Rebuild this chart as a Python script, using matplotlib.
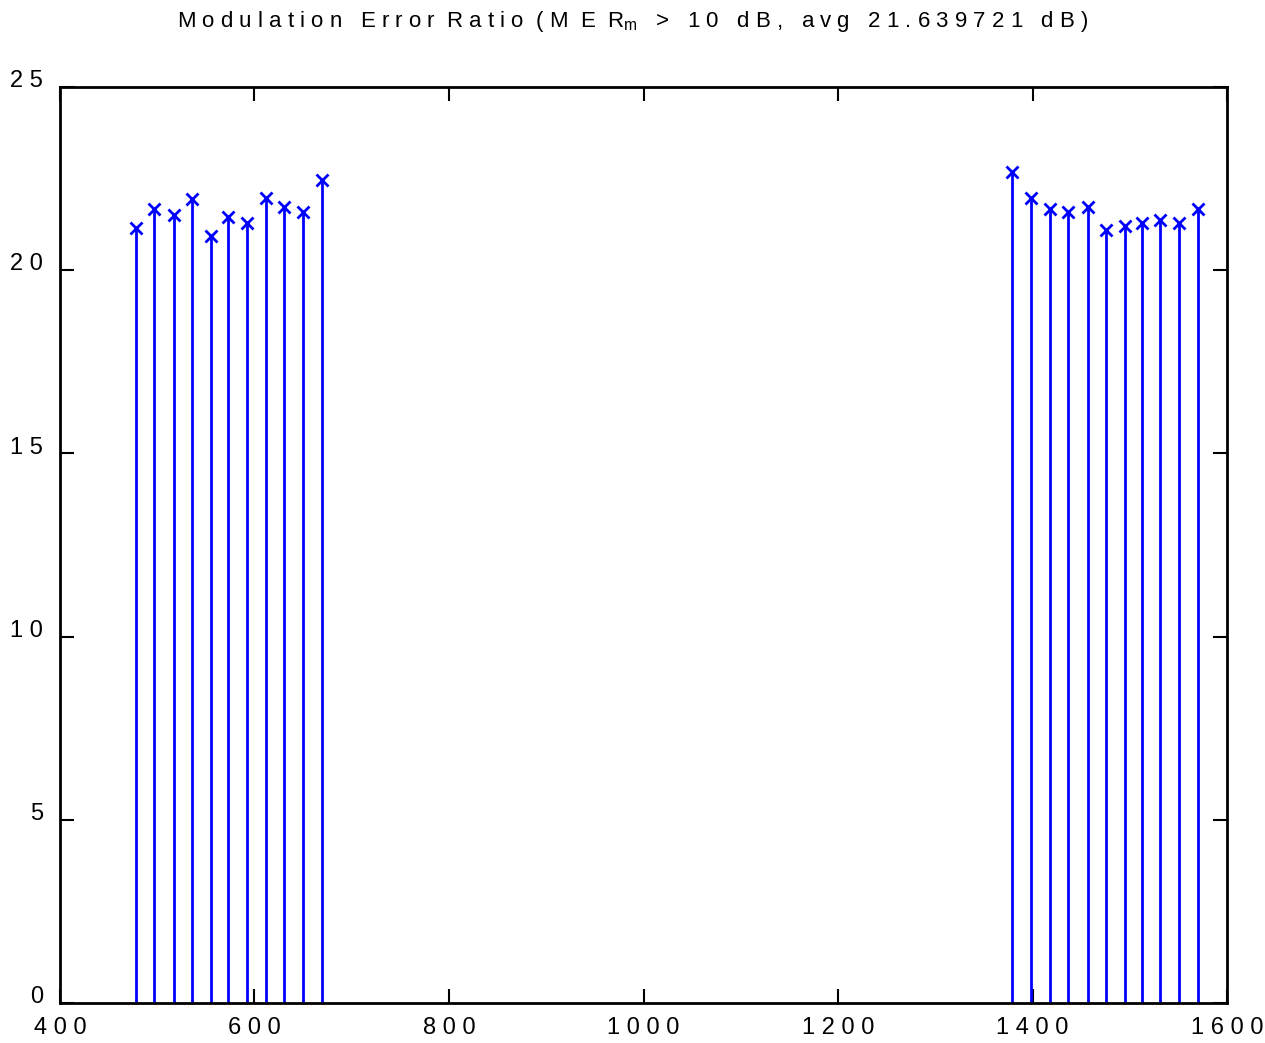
import matplotlib
matplotlib.use("Agg")
import matplotlib.pyplot as plt
import matplotlib.transforms as mtransforms
from matplotlib import font_manager

# Subcarrier index and MER per subcarrier (dB).
carriers_low = [478, 497, 517, 536, 555, 573, 592, 612, 630, 650, 669]
mer_low = [21.16, 21.66, 21.52, 21.95, 20.94, 21.45, 21.29, 21.97, 21.73, 21.59, 22.46]
carriers_high = [1379, 1398, 1418, 1437, 1457, 1476, 1495, 1513, 1531, 1551, 1570]
mer_high = [22.68, 21.97, 21.67, 21.59, 21.73, 21.09, 21.21, 21.30, 21.38, 21.30, 21.68]

x_ticks = [400, 600, 800, 1000, 1200, 1400, 1600]
y_ticks = [0, 5, 10, 15, 20, 25]
avg_text = "21.639721"


def spaced(s):
    return " ".join(str(s))


# Pick a narrow font if there is one.
names = {f.name for f in font_manager.fontManager.ttflist}
family = ["Liberation Sans Narrow", "DejaVu Sans"] if "Liberation Sans Narrow" in names \
    else ["Liberation Sans", "DejaVu Sans"]
plt.rcParams["font.family"] = family
plt.rcParams["mathtext.fontset"] = "custom"
plt.rcParams["mathtext.rm"] = family[0]

fig = plt.figure(figsize=(12.65, 10.43), dpi=100)
ax = fig.add_axes([60 / 1265, 1 - 1003 / 1043, (1227 - 60) / 1265, (1003 - 87) / 1043])

carriers = carriers_low + carriers_high
mer = mer_low + mer_high
markerline, stemlines, baseline = ax.stem(carriers, mer, linefmt="b-", markerfmt="bx", basefmt="none")
stemlines.set_linewidth(2)
markerline.set_markersize(9)
markerline.set_markeredgewidth(2)

ax.set_xlim(400, 1600)
ax.set_ylim(0, 25)
ax.set_xticks(x_ticks)
ax.set_xticklabels([spaced(t) for t in x_ticks])
ax.set_yticks(y_ticks)
ax.set_yticklabels([spaced(t) for t in y_ticks])
ax.tick_params(direction="in", length=10, width=1.5, top=True, right=True, labelsize=17)
ax.tick_params(axis="x", pad=10)
ax.tick_params(axis="y", pad=12)
for sp in ax.spines.values():
    sp.set_linewidth(2)

# y labels sit a little above their ticks in the original
shift = mtransforms.ScaledTranslation(0, 6 / 72, fig.dpi_scale_trans)
for lbl in ax.get_yticklabels():
    lbl.set_transform(lbl.get_transform() + shift)

title = ("M o d u l a t i o n   E r r o r  R a t i o  ( M  E  R$_{\\mathrm{m}}$   >   1 0   d B ,   a v g   "
         + spaced(avg_text) + "   d B )")
fig.text(0.5, 1 - 22 / 1043, title, ha="center", va="center", fontsize=16)

fig.savefig("out.png", dpi=100)
